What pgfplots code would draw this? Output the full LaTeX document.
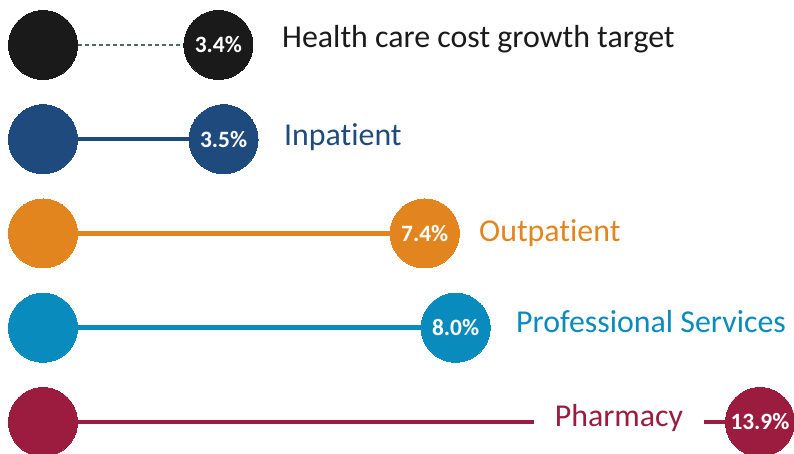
\documentclass[border=0pt]{standalone}
\usepackage{pgfplots}
\pgfplotsset{compat=1.18}
\usepackage{fontspec}
\setmainfont{Carlito}[Ligatures=NoCommon]

\definecolor{cBlack}{HTML}{1A1A1A}
\definecolor{cDash}{HTML}{4F6B5E}
\definecolor{cBlue}{HTML}{1F4A7E}
\definecolor{cOrange}{HTML}{E3851F}
\definecolor{cTeal}{HTML}{0A8BBD}
\definecolor{cRed}{HTML}{9C1C40}

\tikzset{lab/.style={anchor=base west, inner sep=0pt, font=\fontsize{32}{36}\selectfont}}

\begin{document}
\begin{tikzpicture}
\begin{axis}[
    width=794bp, height=454bp,
    scale only axis,
    xmin=-0.834, xmax=14.56,
    ymin=0.66, ymax=5.477,
    axis lines=none,
    clip=false,
    every axis plot/.append style={line width=4.5bp},
    dot/.style={only marks, mark=*, mark size=34.5bp,
        mark options={line width=0pt},
        nodes near coords, point meta=explicit symbolic,
        every node near coord/.append style={anchor=center, inner sep=0pt,
            text=white, font=\fontsize{23.5}{26}\selectfont\bfseries}},
]
% connecting lines (start 0, end = value)
\addplot[cDash, line width=1.2bp, dash pattern=on 4bp off 3bp] coordinates {(0,5) (3.4,5)};
\addplot[cBlue] coordinates {(0,4) (3.5,4)};
\addplot[cOrange] coordinates {(0,3) (7.4,3)};
\addplot[cTeal] coordinates {(0,2) (8.0,2)};
\addplot[cRed] coordinates {(0,1) (13.9,1)};

% circles
\addplot[dot, cBlack] coordinates {(0,5) [] (3.4,5) [3.4\%]};
\addplot[dot, cBlue] coordinates {(0,4) [] (3.5,4) [3.5\%]};
\addplot[dot, cOrange] coordinates {(0,3) [] (7.4,3) [7.4\%]};
\addplot[dot, cTeal] coordinates {(0,2) [] (8.0,2) [8.0\%]};
\addplot[dot, cRed] coordinates {(0,1) [] (13.9,1) [13.9\%]};

% category labels
\node[lab, text=cBlack] at (axis cs:4.634,4.968) {Health care cost growth target};
\node[lab, text=cBlue] at (axis cs:4.672,3.928) {Inpatient};
\node[lab, text=cOrange] at (axis cs:8.453,2.910) {Outpatient};
\node[lab, text=cTeal] at (axis cs:9.170,1.944) {Professional Services};
\node[anchor=base, fill=white, inner xsep=21bp, inner ysep=4bp, text=cRed,
      font=\fontsize{32}{36}\selectfont] at (axis cs:11.167,0.947) {Pharmacy};
\end{axis}
\pgfresetboundingbox
\path (0,0) rectangle (794bp,454bp);
\end{tikzpicture}
\end{document}
